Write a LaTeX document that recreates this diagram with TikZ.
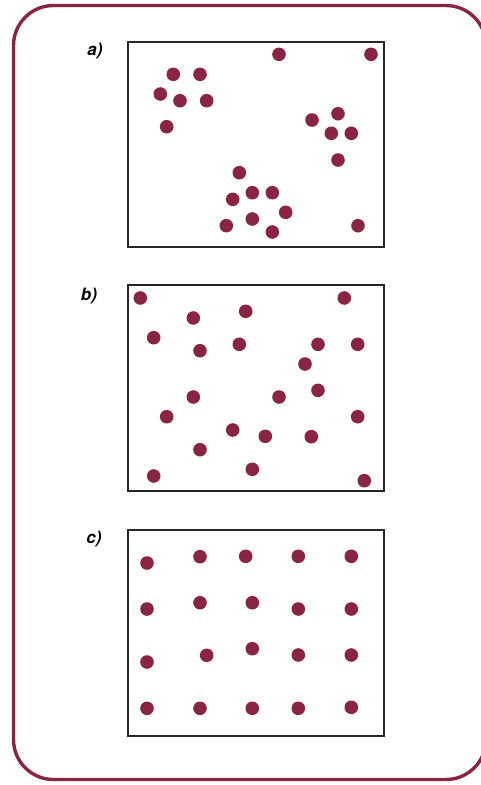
\documentclass[tikz,border=0pt]{standalone}
\usepackage{fontspec}
\setmainfont{TeX Gyre Heros}
\definecolor{maroon}{HTML}{8A2443}
\begin{document}
\begin{tikzpicture}[x=1pt,y=-1pt,
  dot/.style={fill=maroon},
  panel/.style={draw=black!85,line width=2pt},
  lab/.style={font=\fontsize{17}{19}\selectfont\bfseries\itshape,inner sep=0pt}]
\useasboundingbox (0,0) rectangle (481,785);
\draw[maroon,line width=3.4pt,rounded corners=40pt] (13.5,5.5) rectangle (486,779.5);
\draw[panel] (127.5,41.5) rectangle (384,246.5);
\draw[panel] (127.5,285) rectangle (384,490.5);
\draw[panel] (127.5,530) rectangle (384,735.5);
\node[lab] (la) at (95,51) {a)};
\node[lab] (lb) at (89,296) {b)};
\node[lab] (lc) at (94,539) {c)};
\foreach \p in {(279,54.3),(371,54.3),(173.3,74.3),(200,74.3),(160.3,94),(180,100.7),(206.7,100.7),(166.7,126.7),(312,120),(338,113.7),(331.3,133.3),(351.3,133.3),(338,160),(239.3,172.7),(252.3,192.7),(272.3,192.7),(232.7,199.3),(285.7,212.3),(252.3,219),(226.3,225.7),(272.3,232),(358,225.7),
(140.3,298),(344.3,298),(193.3,318),(245.7,311.3),(153.7,337.7),(200,350.7),(239.3,344.3),(318,344.3),(357.7,344.3),(305,364),(193.3,397),(279,397),(318,390.3),(166.7,416.7),(357.7,416.7),(232.7,430),(265.3,436.3),(311.3,436.7),(200,449.7),(252.3,469.3),(153.7,476),(364.3,480.7),
(147,563),(200,556.7),(245.7,556.3),(298.3,556.3),(351.3,556.3),(147,609),(200,602.7),(252.3,602.7),(298.3,609),(351.3,609),(147,662),(206.7,655.3),(252.3,648.7),(298.3,655),(351.3,655),(147,708.3),(200,708.3),(252.3,708.3),(298.3,708.3),(351.3,707.3)}
  \fill[dot] \p circle (6.8);
\end{tikzpicture}
\end{document}
